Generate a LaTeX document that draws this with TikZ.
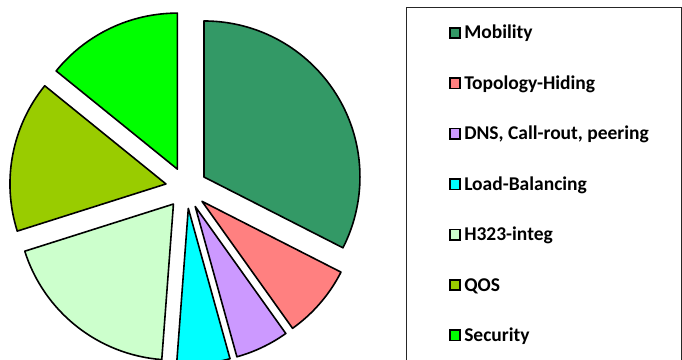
\documentclass[tikz,border=0pt]{standalone}
\usepackage{fontspec}
\setmainfont{Carlito}
\usepackage{tikz}
\usetikzlibrary{calc,positioning}
\definecolor{mobility}{HTML}{339966}
\definecolor{topology}{HTML}{FF8080}
\definecolor{dnscall}{HTML}{CC99FF}
\definecolor{loadbal}{HTML}{00FFFF}
\definecolor{hinteg}{HTML}{CCFFCC}
\definecolor{qos}{HTML}{99CC00}
\definecolor{security}{HTML}{00FF00}

\begin{document}
\begin{tikzpicture}[x=1pt,y=1pt]
	\tikzstyle{slice}=[draw=black, line width=1.6pt, line join=round]
	\tikzstyle{key}=[rectangle, draw=black, line width=1.6pt, minimum size=10.5pt, inner sep=0pt]
	\tikzstyle{keytext}=[font=\fontsize{19.5}{22}\selectfont\bfseries, inner sep=0pt, text height=12pt, text depth=0pt]
	\useasboundingbox (0,0) rectangle (682,359);
	\clip (0,0) rectangle (682,359);
	\coordinate (c) at (186.3,171.2);
	\foreach \a/\b/\col in {90/-27/mobility, -27/-54.5/topology, -54.5/-74.5/dnscall, -74.5/-94.3/loadbal, -94.3/-162.4/hinteg, -162.4/-219/qos, -219/-270/security}
		\filldraw[slice, fill=\col] ($(c)+({(\a+\b)/2}:20.7)$) -- ++(\a:156) arc (\a:\b:156) -- cycle;
	\draw[line width=0.9pt, draw=black!85] (406,352) rectangle (681,-5);
	\foreach \n/\col/\txt [count=\i from 0] in {mob/mobility/Mobility, topo/topology/Topology-Hiding, dns/dnscall/{DNS, Call-rout, peering}, lb/loadbal/Load-Balancing, h323/hinteg/H323-integ, qos/qos/QOS, sec/security/Security}
	{
		\node[key, fill=\col] (k\n) at (455,326-50.4*\i) {};
		\node[keytext, right=3pt of k\n] (t\n) {\txt};
	}
\end{tikzpicture}
\end{document}
